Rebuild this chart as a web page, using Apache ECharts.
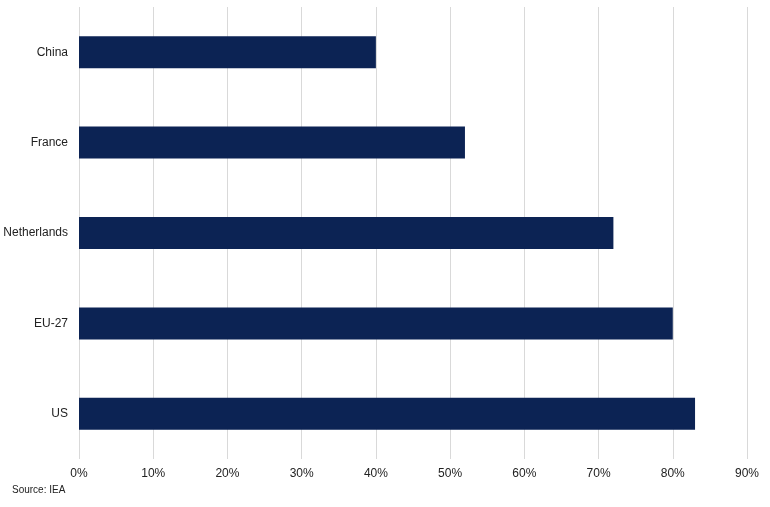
<!DOCTYPE html>
<html>
<head>
<meta charset="utf-8">
<script src="https://cdn.jsdelivr.net/npm/echarts@6/dist/echarts.min.js"></script>
<style>
html,body{margin:0;padding:0;background:#fff;}
#c{width:770px;height:507px;}
</style>
</head>
<body>
<div id="c"></div>
<script>
var categories = ["China", "France", "Netherlands", "EU-27", "US"];
var values = [40, 52, 72, 80, 83];
var xTicks = [0, 10, 20, 30, 40, 50, 60, 70, 80, 90];
var sourceText = "Source: IEA";

var chart = echarts.init(document.getElementById('c'), null, {renderer: 'canvas'});
chart.setOption({
  animation: false,
  backgroundColor: '#ffffff',
  textStyle: {fontFamily: 'Liberation Sans, Arial, sans-serif'},
  grid: {left: 79, right: 23, top: 7, bottom: 48, containLabel: false},
  graphic: [{
    type: 'text', left: 12, top: 485,
    style: {text: sourceText, font: '10px Liberation Sans, Arial, sans-serif', fill: '#222'}
  }],
  xAxis: {
    type: 'value', min: 0, max: 90, interval: 10,
    axisLine: {show: false}, axisTick: {show: false},
    splitLine: {show: true, lineStyle: {color: '#d9d9d9', width: 1}},
    axisLabel: {formatter: '{value}%', color: '#222', fontSize: 12, margin: 9}
  },
  yAxis: {
    type: 'category', data: categories, inverse: true,
    axisLine: {show: false}, axisTick: {show: false},
    axisLabel: {color: '#222', fontSize: 12, margin: 11}
  },
  series: [{
    type: 'bar', data: values, barWidth: 32,
    itemStyle: {color: '#0c2354'}
  }]
});
</script>
</body>
</html>
